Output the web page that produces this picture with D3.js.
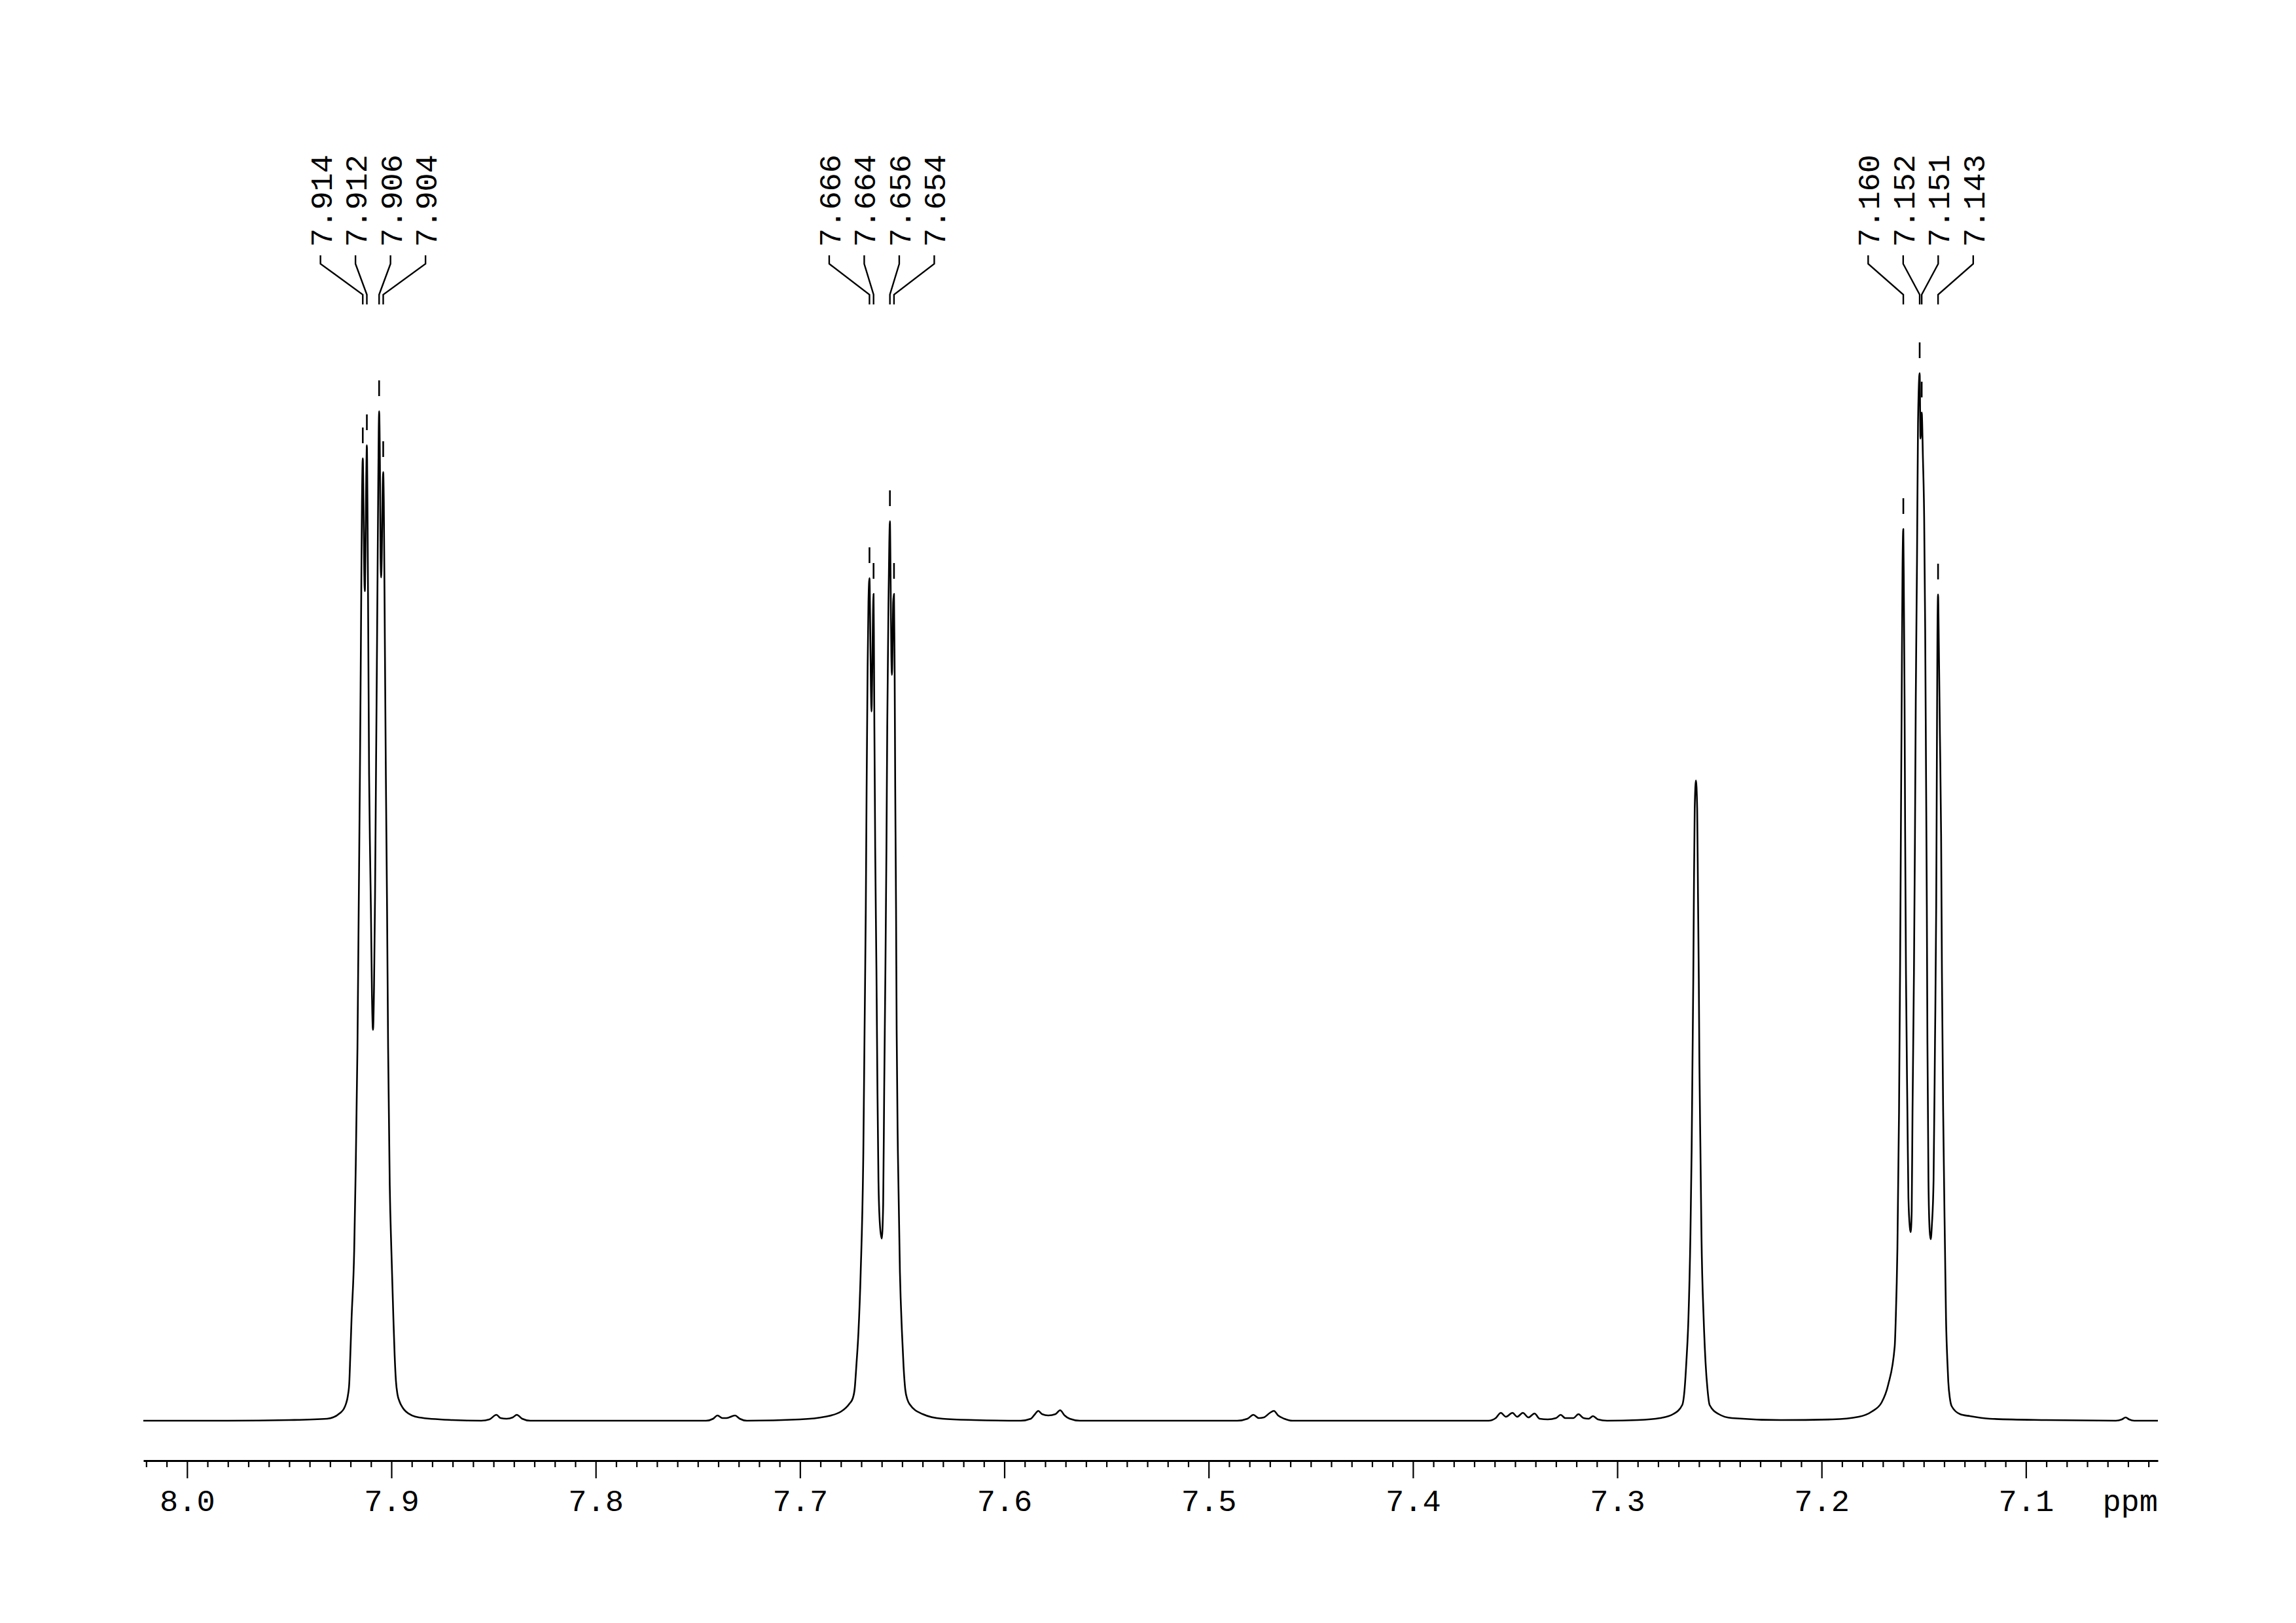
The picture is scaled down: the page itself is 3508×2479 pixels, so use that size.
<!DOCTYPE html>
<html>
<head>
<meta charset="utf-8">
<script src="https://cdn.jsdelivr.net/npm/d3@7"></script>
<style>
  html, body { margin: 0; padding: 0; background: #fff; }
  svg { display: block; }
</style>
</head>
<body>
<svg id="chart" width="3508" height="2479"></svg>
<script>
// ---- data ----
const axisDomain = [8.0214, 7.0354];           // ppm, left -> right
const majorTicks = [8.0, 7.9, 7.8, 7.7, 7.6, 7.5, 7.4, 7.3, 7.2, 7.1];
const tickLabels = ["8.0", "7.9", "7.8", "7.7", "7.6", "7.5", "7.4", "7.3", "7.2", "7.1"];
const minorTicks = [8.02,8.01,7.99,7.98,7.97,7.96,7.95,7.94,7.93,7.92,7.91,7.89,7.88,7.87,7.86,7.85,7.84,7.83,7.82,7.81,
  7.79,7.78,7.77,7.76,7.75,7.74,7.73,7.72,7.71,7.69,7.68,7.67,7.66,7.65,7.64,7.63,7.62,7.61,
  7.59,7.58,7.57,7.56,7.55,7.54,7.53,7.52,7.51,7.49,7.48,7.47,7.46,7.45,7.44,7.43,7.42,7.41,
  7.39,7.38,7.37,7.36,7.35,7.34,7.33,7.32,7.31,7.29,7.28,7.27,7.26,7.25,7.24,7.23,7.22,7.21,
  7.19,7.18,7.17,7.16,7.15,7.14,7.13,7.12,7.11,7.09,7.08,7.07,7.06,7.05,7.04];
const unitLabel = "ppm";

// picked peaks: position (ppm), intensity at the peak top, multiplet group
const peakPpm    = [7.914, 7.912, 7.906, 7.904, 7.666, 7.664, 7.656, 7.654, 7.160, 7.152, 7.151, 7.143];
const peakHeight = [1470, 1490, 1542, 1449, 1287, 1263, 1374, 1263, 1362, 1600, 1540, 1262];
const peakGroup  = [0, 0, 0, 0, 1, 1, 1, 1, 2, 2, 2, 2];

// spectrum trace: [ppm, intensity]
const spectrum = [
  [8.0214,0],[7.98,0],[7.95,1],
  [7.9314,3],[7.9250,12],[7.9233,18],[7.9222,26],[7.9213,38],[7.9206,58],[7.9201,100],[7.9195,155],[7.9182,260],[7.9176,360],[7.9166,570],
  [7.9160,778],[7.9154,986],[7.9149,1194],[7.9144,1402],[7.9140,1470],[7.9137,1420],[7.9133,1300],[7.9130,1267],
  [7.9127,1320],[7.9123,1440],[7.9120,1490],[7.9117,1400],[7.9113,1194],[7.9109,986],[7.9104,860],[7.9100,778],
  [7.9095,650],[7.9090,597],[7.9085,660],[7.9080,800],[7.9075,1000],[7.9070,1194],[7.9065,1400],[7.9062,1510],
  [7.9060,1542],[7.9056,1460],[7.9053,1320],[7.9050,1288],[7.9047,1320],[7.9043,1420],[7.9040,1449],[7.9037,1402],
  [7.9032,1194],[7.9027,986],[7.9021,778],[7.9016,570],[7.9008,360],[7.9000,260],[7.8990,155],[7.8984,100],
  [7.8978,62],[7.8970,40],[7.8961,30],[7.8945,20],[7.8929,14],[7.8865,5],[7.870,1],
  [7.856,0],[7.8520,2],[7.8486,9],[7.8465,4],[7.8436,3],[7.8406,5],[7.8386,9],[7.8360,3],[7.832,0],
  [7.80,0],
  [7.746,0],[7.7425,3],[7.7404,8],[7.7380,4],[7.7360,4],[7.7318,8],[7.7295,3],[7.726,0],
  [7.700,2],[7.6879,6],[7.6799,14],[7.6758,26],[7.6742,34],[7.6732,50],[7.6724,85],[7.6714,135],[7.6703,227],[7.6690,412],[7.6684,597],
  [7.6678,782],[7.6674,967],[7.6669,1153],[7.6665,1250],[7.6660,1287],[7.6657,1230],[7.6653,1120],[7.6650,1083],
  [7.6647,1130],[7.6643,1230],[7.6640,1263],[7.6638,1180],[7.6636,1060],[7.6632,875],[7.6626,690],[7.6621,505],
  [7.6616,366],[7.6609,300],[7.6600,278],[7.6593,330],[7.6588,505],[7.6582,690],[7.6577,875],[7.6573,1060],
  [7.6567,1250],[7.6563,1340],[7.6560,1374],[7.6557,1300],[7.6553,1170],[7.6550,1139],[7.6547,1180],[7.6544,1250],
  [7.6540,1263],[7.6537,1153],[7.6534,967],[7.6530,782],[7.6527,597],[7.6521,412],[7.6511,227],[7.6501,135],
  [7.6493,82],[7.6485,48],[7.6474,32],[7.6463,25],[7.6399,10],[7.6303,3],[7.615,1],
  [7.592,0],[7.5870,3],[7.5850,10],[7.5834,15],[7.5815,10],[7.5785,8],[7.5750,10],[7.5727,16],[7.5705,8],[7.5680,3],[7.563,0],
  [7.52,0],
  [7.486,0],[7.4810,3],[7.4781,9],[7.4755,4],[7.4730,5],[7.4700,12],[7.4681,15],[7.4660,8],[7.4630,3],[7.459,0],
  [7.40,0],
  [7.363,0],[7.3595,4],[7.3570,12],[7.3545,6],[7.3513,12],[7.3490,6],[7.3462,12],[7.3435,5],[7.3405,11],[7.3380,3],
  [7.3340,2],[7.3300,4],[7.3277,9],[7.3255,4],[7.3215,4],[7.3190,10],[7.3165,4],[7.3140,3],[7.3119,7],[7.3095,2],[7.305,0],
  [7.29,1],
  [7.2791,4],[7.2727,10],[7.2682,24],[7.2670,50],[7.2662,89],[7.2652,154],[7.2642,284],[7.2636,414],[7.2632,545],[7.2628,675],
  [7.2625,805],[7.2621,935],[7.2615,978],[7.2609,935],[7.2605,805],[7.2601,675],[7.2598,545],[7.2593,414],[7.2588,284],
  [7.2577,154],[7.2568,89],[7.2559,50],[7.2548,24],[7.2503,10],[7.2439,4],
  [7.22,1],
  [7.1946,2],[7.1818,6],[7.1754,14],[7.1706,28],[7.1674,55],[7.1642,114],[7.1637,156],[7.1629,262],[7.1621,472],
  [7.1616,683],[7.1612,893],[7.1608,1104],[7.1604,1300],[7.1600,1362],[7.1597,1250],[7.1594,1104],[7.1591,893],
  [7.1587,683],[7.1580,472],[7.1575,340],[7.1568,295],[7.1564,288],[7.1559,320],[7.1555,472],[7.1548,683],
  [7.1543,893],[7.1539,1104],[7.1533,1314],[7.1528,1525],[7.1520,1600],[7.1516,1500],[7.1510,1540],[7.1504,1470],
  [7.1498,1380],[7.1493,1209],[7.1489,998],[7.1485,788],[7.1482,577],[7.1477,367],[7.1471,290],[7.1466,277],
  [7.1460,300],[7.1452,367],[7.1445,577],[7.1439,788],[7.1436,998],[7.1433,1200],[7.1430,1262],[7.1426,1180],
  [7.1421,1050],[7.1415,893],[7.1411,683],[7.1405,472],[7.1396,262],[7.1391,156],[7.1385,95],[7.1380,60],[7.1372,34],[7.1363,22],
  [7.1322,10],[7.1274,7],[7.1178,3],[7.09,1],
  [7.056,0],[7.0530,2],[7.0512,5],[7.0495,2],[7.047,0],
  [7.0354,0]
];

// ---- drawing ----
const svg = d3.select("#chart");
svg.append("rect").attr("width", 3508).attr("height", 2479).attr("fill", "#fff");

const FONT = "'Liberation Mono', 'DejaVu Sans Mono', monospace";
const x = d3.scaleLinear().domain(axisDomain).range([219, 3297]);
const y = d3.scaleLinear().domain([0, 1000]).range([2170, 1170]);

// spectrum line
const line = d3.line()
  .x(d => x(d[0]))
  .y(d => y(d[1]))
  .curve(d3.curveMonotoneX);
svg.append("path")
  .datum(spectrum)
  .attr("d", line)
  .attr("fill", "none")
  .attr("stroke", "#000")
  .attr("stroke-width", 2.6)
  .attr("stroke-linejoin", "round");

// axis
const axisY = 2231;
const gMinor = svg.append("g").attr("transform", `translate(0,${axisY})`)
  .call(d3.axisBottom(x).tickValues(minorTicks).tickSize(10).tickSizeOuter(0).tickFormat(""));
gMinor.select(".domain").attr("stroke", "#000").attr("stroke-width", 3.2);
gMinor.selectAll(".tick line").attr("stroke", "#000").attr("stroke-width", 2.2);

const gMajor = svg.append("g").attr("transform", `translate(0,${axisY})`)
  .call(d3.axisBottom(x).tickValues(majorTicks).tickSize(27).tickSizeOuter(0)
    .tickFormat((d, i) => tickLabels[i]));
gMajor.select(".domain").remove();
gMajor.selectAll(".tick line").attr("stroke", "#000").attr("stroke-width", 2.2);
gMajor.selectAll(".tick text")
  .attr("y", 77).attr("dy", 0)
  .attr("fill", "#000")
  .style("font-family", FONT)
  .style("font-size", "47px");

svg.append("text")
  .attr("x", x(axisDomain[1]))
  .attr("y", axisY + 77)
  .attr("text-anchor", "end")
  .style("font-family", FONT)
  .style("font-size", "47px")
  .attr("fill", "#000")
  .text(unitLabel);

// peak-pick labels with leader lines
const labelSpacing = 53.5;
const groups = d3.group(peakPpm.map((p, i) => ({ p, h: peakHeight[i], g: peakGroup[i] })), d => d.g);
const labelled = [];
for (const [g, arr] of groups) {
  const cx = d3.mean(arr, d => x(d.p));
  arr.forEach((d, k) => {
    labelled.push({ ...d, lx: cx + (k - (arr.length - 1) / 2) * labelSpacing });
  });
}

const gLab = svg.append("g");
gLab.selectAll("path.leader")
  .data(labelled).enter().append("path")
  .attr("class", "leader")
  .attr("d", d => `M${d.lx},390 V403 L${x(d.p)},450 V465`)
  .attr("fill", "none")
  .attr("stroke", "#000")
  .attr("stroke-width", 2.4);

gLab.selectAll("text.plabel")
  .data(labelled).enter().append("text")
  .attr("class", "plabel")
  .attr("transform", d => `translate(${d.lx},377) rotate(-90)`)
  .attr("dy", "0.36em")
  .attr("text-anchor", "start")
  .style("font-family", FONT)
  .style("font-size", "47px")
  .attr("fill", "#000")
  .text(d => d.p.toFixed(3));

// peak markers above each picked peak top
gLab.selectAll("line.marker")
  .data(labelled).enter().append("line")
  .attr("class", "marker")
  .attr("x1", d => x(d.p)).attr("x2", d => x(d.p))
  .attr("y1", d => y(d.h) - 47).attr("y2", d => y(d.h) - 23)
  .attr("stroke", "#000")
  .attr("stroke-width", 2.6);
</script>
</body>
</html>
